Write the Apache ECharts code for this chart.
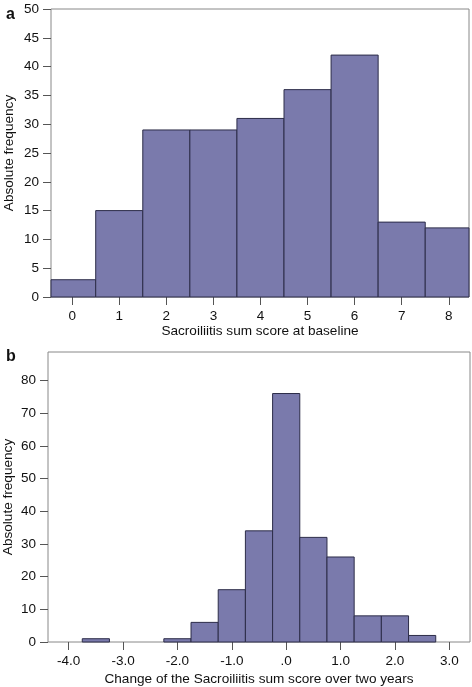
<!DOCTYPE html>
<html><head><meta charset="utf-8">
<script src="https://cdn.jsdelivr.net/npm/echarts@6/dist/echarts.min.js"></script>
<style>html,body{margin:0;padding:0;background:#fff}#c{width:472px;height:687px}</style>
</head><body><div id="c"></div>
<script>
// Panel a
const scoreCats = [0, 1, 2, 3, 4, 5, 6, 7, 8];
const scoreFreq = [3, 15, 29, 29, 31, 36, 42, 13, 12];
const yTicksA = [0, 5, 10, 15, 20, 25, 30, 35, 40, 45, 50];
// Panel b
const changeCenters = [-3.5, -2.0, -1.5, -1.0, -0.5, 0.0, 0.5, 1.0, 1.5, 2.0, 2.5];
const changeFreq = [1, 1, 6, 16, 34, 76, 32, 26, 8, 8, 2];
const xTicksB = [-4, -3, -2, -1, 0, 1, 2, 3];
const xTickLabelsB = ["-4.0", "-3.0", "-2.0", "-1.0", ".0", "1.0", "2.0", "3.0"];
const yTicksB = [0, 10, 20, 30, 40, 50, 60, 70, 80];

const FONT = '"Liberation Sans", Arial, sans-serif';
const barFill = '#7a7aac';
const barEdge = '#2c2c48';

function rectItem(width) {
  return function (params, api) {
    const x = api.value(0), y = api.value(1);
    const p0 = api.coord([x - width / 2, y]);
    const p1 = api.coord([x + width / 2, 0]);
    const cs = params.coordSys;
    const r = echarts.graphic.clipRectByRect(
      { x: p0[0], y: p0[1], width: p1[0] - p0[0], height: p1[1] - p0[1] },
      { x: cs.x, y: cs.y, width: cs.width, height: cs.height });
    if (!r) return null;
    return { type: 'rect', shape: r, style: { fill: barFill, stroke: barEdge, lineWidth: 1 } };
  };
}

const axisCommon = {
  axisLine: { show: false, onZero: false },
  splitLine: { show: false },
  axisTick: { show: true, inside: false, length: 8, lineStyle: { color: '#555' } },
  axisLabel: { color: '#111', fontSize: 13.5, fontFamily: FONT, margin: 12 },
  nameTextStyle: { color: '#111', fontSize: 13.6, fontFamily: FONT },
  nameMoveOverlap: false
};

const chart = echarts.init(document.getElementById('c'), null, { renderer: 'canvas' });
chart.setOption({
  animation: false,
  backgroundColor: '#fff',
  title: [
    { text: 'a', left: 1, top: 2, textStyle: { fontSize: 16, fontWeight: 'bold', fontFamily: FONT, color: '#111' } },
    { text: 'b', left: 1, top: 344, textStyle: { fontSize: 16, fontWeight: 'bold', fontFamily: FONT, color: '#111' } }
  ],
  grid: [
    { left: 51, right: 3, top: 9, bottom: 390, show: true, borderColor: '#888', borderWidth: 1, backgroundColor: 'transparent', containLabel: false, outerBoundsMode: 'none' },
    { left: 48, right: 2, top: 352, bottom: 45, show: true, borderColor: '#888', borderWidth: 1, backgroundColor: 'transparent', containLabel: false, outerBoundsMode: 'none' }
  ],
  xAxis: [
    Object.assign({}, axisCommon, {
      type: 'value', gridIndex: 0, min: -0.45, max: 8.43,
      name: 'Sacroiliitis sum score at baseline', nameLocation: 'middle', nameGap: 27,
      axisTick: Object.assign({}, axisCommon.axisTick, { customValues: scoreCats }),
      axisLabel: Object.assign({}, axisCommon.axisLabel, { customValues: scoreCats })
    }),
    Object.assign({}, axisCommon, {
      type: 'value', gridIndex: 1, min: -4.38, max: 3.38,
      name: 'Change of the Sacroiliitis sum score over two years', nameLocation: 'middle', nameGap: 30,
      axisTick: Object.assign({}, axisCommon.axisTick, { customValues: xTicksB }),
      axisLabel: Object.assign({}, axisCommon.axisLabel, {
        customValues: xTicksB,
        formatter: function (v) { const i = xTicksB.indexOf(Math.round(v)); return i >= 0 ? xTickLabelsB[i] : ''; }
      })
    })
  ],
  yAxis: [
    Object.assign({}, axisCommon, {
      type: 'value', gridIndex: 0, min: 0, max: 50,
      name: 'Absolute frequency', nameLocation: 'middle', nameGap: 35,
      axisTick: Object.assign({}, axisCommon.axisTick, { customValues: yTicksA }),
      axisLabel: Object.assign({}, axisCommon.axisLabel, { customValues: yTicksA })
    }),
    Object.assign({}, axisCommon, {
      type: 'value', gridIndex: 1, min: 0, max: 88.7,
      name: 'Absolute frequency', nameLocation: 'middle', nameGap: 33,
      axisTick: Object.assign({}, axisCommon.axisTick, { customValues: yTicksB }),
      axisLabel: Object.assign({}, axisCommon.axisLabel, { customValues: yTicksB })
    })
  ],
  series: [
    {
      type: 'custom', xAxisIndex: 0, yAxisIndex: 0,
      renderItem: rectItem(1),
      data: scoreCats.map((c, i) => [c, scoreFreq[i]]),
      encode: { x: 0, y: 1 }
    },
    {
      type: 'custom', xAxisIndex: 1, yAxisIndex: 1,
      renderItem: rectItem(0.5),
      data: changeCenters.map((c, i) => [c, changeFreq[i]]),
      encode: { x: 0, y: 1 }
    }
  ]
});
</script></body></html>
